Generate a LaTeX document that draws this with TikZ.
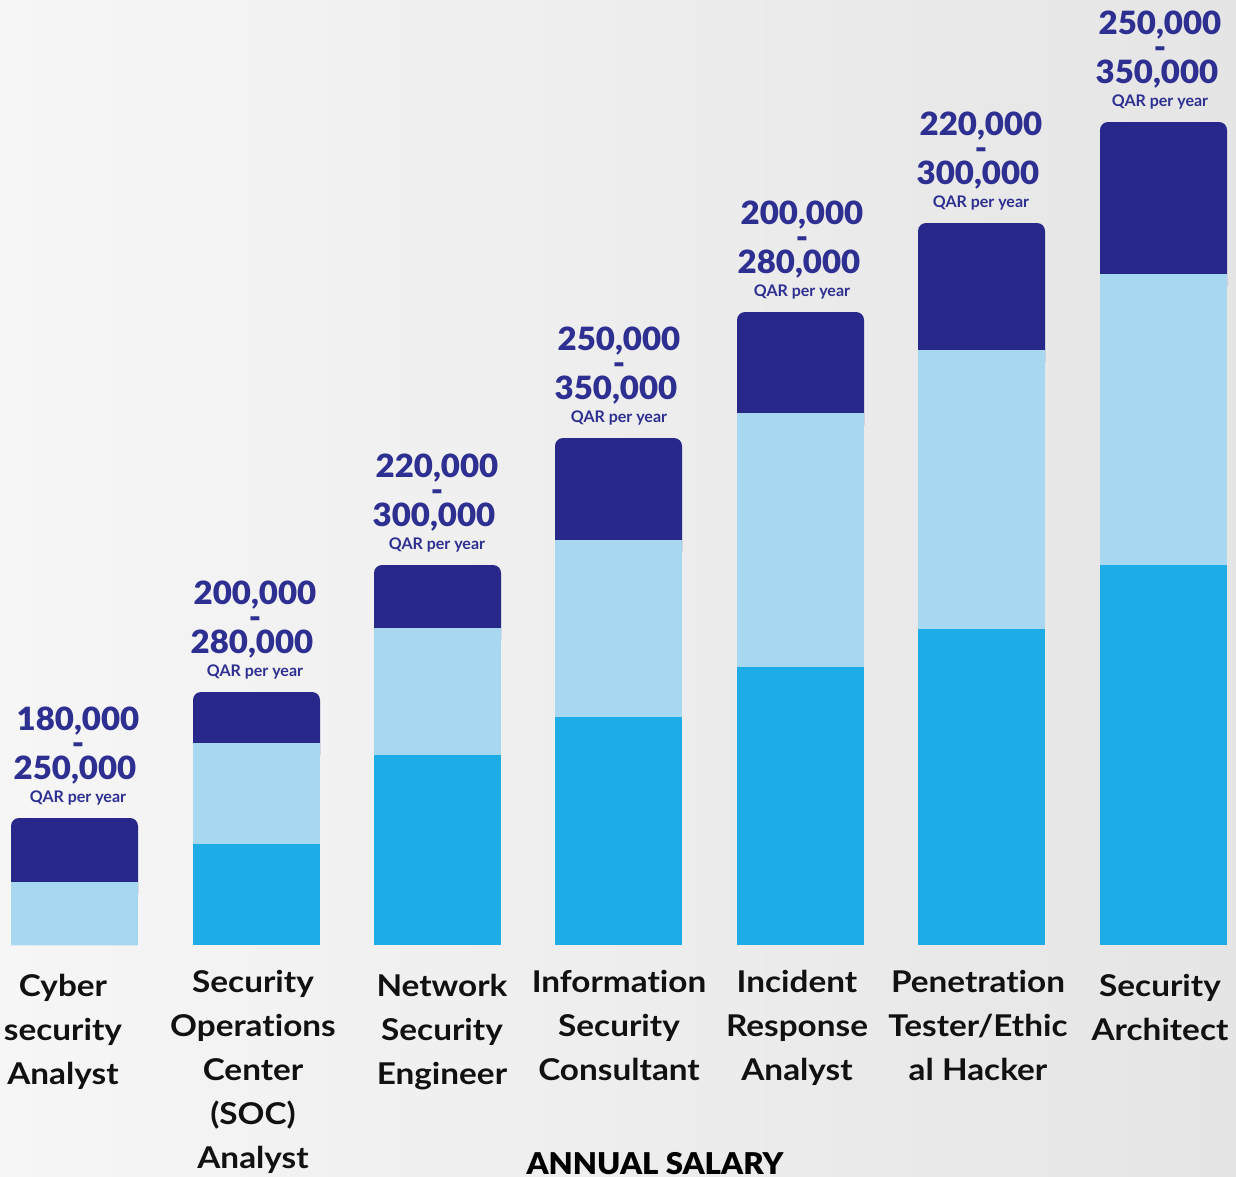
\documentclass[tikz,border=0pt]{standalone}
\usepackage{fontspec}
\setmainfont{Lato}
\newfontfamily\numfont{Lato Black}[FakeStretch=1.03]
\newfontfamily\labfont{Lato Bold}[FakeStretch=1.11,Ligatures=NoCommon]
\newfontfamily\titfont{Lato Black}[FakeStretch=1.04]
\definecolor{navy}{RGB}{40,39,138}
\definecolor{lightb}{RGB}{168,216,239}
\definecolor{midb}{RGB}{30,172,230}
\definecolor{numc}{RGB}{45,47,145}
\definecolor{bgl}{RGB}{246,246,246}
\definecolor{bgr}{RGB}{229,229,229}
\definecolor{labc}{RGB}{17,17,17}
\tikzset{
  numtxt/.style={text=numc,font=\fontsize{32}{32}\numfont,inner sep=0pt,anchor=base},
  qartxt/.style={text=numc,font=\fontsize{16}{16}\selectfont\bfseries,inner sep=0pt,anchor=base},
  labtxt/.style={text=labc,font=\fontsize{30}{30}\labfont,inner sep=0pt,anchor=base},
  titletxt/.style={text=black,font=\fontsize{30}{30}\titfont,inner sep=0pt,anchor=base},
}
% #1 name, #2 x-left, #3 top, #4 dark bottom, #5 light bottom, #6 label x
\newcommand{\salbar}[8]{%
  \fill[navy,rounded corners=8pt] (#2,#3) rectangle (#2+127,#4+20);
  \fill[lightb] (#2,#4) rectangle (#2+127,#5);
  \fill[midb] (#2,#5) rectangle (#2+127,945);
  \node[numtxt] (#1n1) at (#6,#3-88) {#7};
  \node[numtxt] (#1d) at (#6,#3-64) {-};
  \node[numtxt] (#1n2) at (#6-3,#3-39) {#8};
  \node[qartxt] (#1q) at (#6,#3-16) {QAR per year};
}
\begin{document}
\begin{tikzpicture}[x=1pt,y=-1pt]
\useasboundingbox (0,0) rectangle (1236,1176);
\shade[left color=bgl,right color=bgr] (0,0) rectangle (1236,1176);
\salbar{b1}{11}{818}{882}{945}{78}{180,000}{250,000}
\salbar{b2}{193}{692}{743}{844}{255}{200,000}{280,000}
\salbar{b3}{374}{565}{628}{755}{437}{220,000}{300,000}
\salbar{b4}{555}{438}{540}{717}{619}{250,000}{350,000}
\salbar{b5}{737}{312}{413}{667}{802}{200,000}{280,000}
\salbar{b6}{918}{223}{350}{629}{981}{220,000}{300,000}
\salbar{b7}{1100}{122}{274}{565}{1160}{250,000}{350,000}
% labels
\node[labtxt] (c1a) at (63,996) {Cyber};
\node[labtxt] (c1b) at (63,1040) {security};
\node[labtxt] (c1c) at (63,1084) {Analyst};
\node[labtxt] (c2a) at (253,992) {Security};
\node[labtxt] (c2b) at (253,1036) {Operations};
\node[labtxt] (c2c) at (253,1080) {Center};
\node[labtxt] (c2d) at (253,1124) {(SOC)};
\node[labtxt] (c2e) at (253,1168) {Analyst};
\node[labtxt] (c3a) at (442,996) {Network};
\node[labtxt] (c3b) at (442,1040) {Security};
\node[labtxt] (c3c) at (442,1084) {Engineer};
\node[labtxt] (c4a) at (619,992) {Information};
\node[labtxt] (c4b) at (619,1036) {Security};
\node[labtxt] (c4c) at (619,1080) {Consultant};
\node[labtxt] (c5a) at (797,992) {Incident};
\node[labtxt] (c5b) at (797,1036) {Response};
\node[labtxt] (c5c) at (797,1080) {Analyst};
\node[labtxt] (c6a) at (978,992) {Penetration};
\node[labtxt] (c6b) at (978,1036) {Tester/Ethic};
\node[labtxt] (c6c) at (978,1080) {al Hacker};
\node[labtxt] (c7a) at (1160,996) {Security};
\node[labtxt] (c7b) at (1160,1040) {Architect};
\node[titletxt] (title) at (655,1174) {ANNUAL SALARY};
\end{tikzpicture}
\end{document}
